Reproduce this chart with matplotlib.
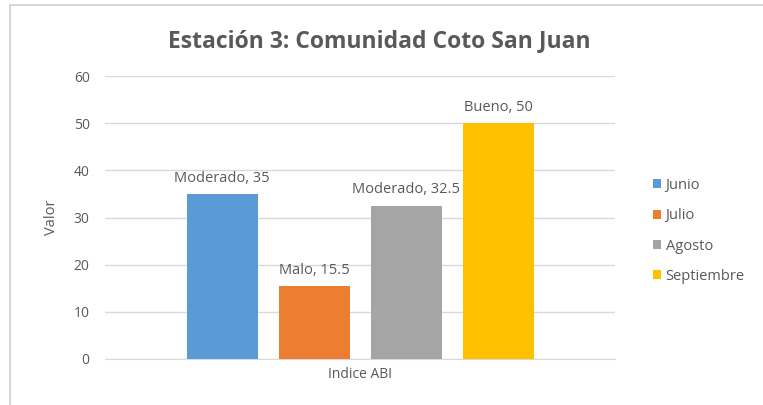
import matplotlib
matplotlib.use('Agg')
import matplotlib.pyplot as plt
from matplotlib.patches import Rectangle

# data
months = ['Junio', 'Julio', 'Agosto', 'Septiembre']
values = [35, 15.5, 32.5, 50]
ratings = ['Moderado', 'Malo', 'Moderado', 'Bueno']
category = 'Indice ABI'
colors = ['#5B9BD5', '#ED7D31', '#A5A5A5', '#FFC000']

TXT = '#595959'
GRID = '#d9d9d9'
plt.rcParams['font.family'] = ['Open Sans', 'DejaVu Sans']

fig = plt.figure(figsize=(7.63, 4.05), dpi=100)
fig.patch.set_facecolor('white')

# chart frame
fig.add_artist(Rectangle((10 / 763, -0.1), 1.2, 1.1 - 5 / 405, transform=fig.transFigure,
                         fill=False, edgecolor='#d0d0d0', linewidth=1.2))

ax = fig.add_axes([105 / 763, 1 - 359 / 405, 510 / 763, (359 - 76) / 405])

pitch = 92 / 510
width = 71 / 510
for i, (m, v, r, c) in enumerate(zip(months, values, ratings, colors)):
    x = (i - 1.5) * pitch
    ax.bar(x, v, width=width, color=c, label=m, zorder=3)
    ax.annotate(f'{r}, {v:g}', (x, v), xytext=(0, 6), textcoords='offset points',
                ha='center', va='bottom', fontsize=10.5, color=TXT)

ax.set_xlim(-0.5, 0.5)
ax.set_ylim(0, 60)
ax.set_yticks(range(0, 61, 10))
ax.set_xticks([0])
ax.set_xticklabels([category])
ax.tick_params(length=0, labelsize=10, colors=TXT)
ax.tick_params(axis='y', pad=11)
ax.tick_params(axis='x', pad=6)
ax.grid(axis='y', color=GRID, linewidth=1, zorder=0)
for s in ['top', 'right', 'left']:
    ax.spines[s].set_visible(False)
ax.spines['bottom'].set_color(GRID)
ax.set_ylabel('Valor', fontsize=10.5, color=TXT)
ax.yaxis.set_label_coords(-0.09, 0.5)

fig.text(379 / 763, 1 - 41 / 405, 'Estación 3: Comunidad Coto San Juan', ha='center', va='center',
         fontsize=16.5, fontweight='bold', color=TXT)

leg = fig.legend(loc='center left', bbox_to_anchor=(640 / 763, 1 - 231 / 405), frameon=False,
                 fontsize=10.5, handlelength=0.55, handleheight=0.55, handletextpad=0.3,
                 labelspacing=1.05, labelcolor=TXT)

fig.savefig('out.png', dpi=100)
